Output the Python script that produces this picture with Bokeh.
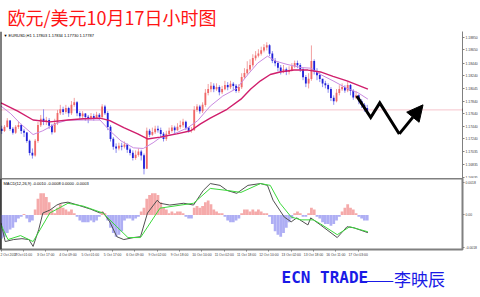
from bokeh.plotting import figure
from bokeh.layouts import column
from bokeh.models import (Range1d, FixedTicker, Label, Span, Arrow, NormalHead,
                          ColumnDataSource, CustomJSTickFormatter, NumeralTickFormatter)
from bokeh.embed import file_html
from bokeh.resources import INLINE

# ---------------- texts ----------------
title_text = "欧元/美元10月17日小时图"
footer_latin = "ECN TRADE"
footer_cjk = "——李映辰"
symbol_text = "▼ EURUSD,H1  1.17803 1.17834 1.17730 1.17787"
macd_text = "MACD(12,26,9) -0.0010 -0.0008 0.0000 -0.0003"
bid_text = "1.17787"

# ---------------- 2-hour candles ----------------
first_open = 1.1740
close = [
    1.1737, 1.1743, 1.1753, 1.1740, 1.1734, 1.1743, 1.1746, 1.1737, 1.1734, 1.1721,
    1.1702, 1.1698, 1.1721, 1.1746, 1.1756, 1.1751, 1.1754, 1.1745, 1.1735, 1.1749,
    1.1765, 1.1771, 1.1767, 1.1773, 1.1765, 1.1778, 1.1782, 1.1765, 1.1760, 1.1764,
    1.1759, 1.1756, 1.1760, 1.1757, 1.1762, 1.1759, 1.1775, 1.1765, 1.1743, 1.1724,
    1.1712, 1.1709, 1.1713, 1.1712, 1.1715, 1.1707, 1.1702, 1.1694, 1.1699, 1.1704,
    1.1698, 1.1677, 1.1737, 1.1731, 1.1735, 1.1740, 1.1738, 1.1732, 1.1724, 1.1732,
    1.1737, 1.1742, 1.1738, 1.1743, 1.1746, 1.1751, 1.1742, 1.1737, 1.1738, 1.1770,
    1.1775, 1.1768, 1.1778, 1.1797, 1.1803, 1.1808, 1.1803, 1.1806, 1.1798, 1.1803,
    1.1809, 1.1806, 1.1811, 1.1808, 1.1800, 1.1806, 1.1822, 1.1828, 1.1834, 1.1841,
    1.1852, 1.1856, 1.1859, 1.1864, 1.1869, 1.1872, 1.1859, 1.1848, 1.1844, 1.1837,
    1.1831, 1.1834, 1.1830, 1.1833, 1.1839, 1.1844, 1.1841, 1.1834, 1.1822, 1.1812,
    1.1819, 1.1847, 1.1831, 1.1825, 1.1819, 1.1812, 1.1809, 1.1803, 1.1789, 1.1784,
    1.1797, 1.1803, 1.1806, 1.1801, 1.1809, 1.1800, 1.1790, 1.1793, 1.1784, 1.1778,
    1.1773, 1.1768]
high = [
    1.1745, 1.1746, 1.1757, 1.1754, 1.1743, 1.1746, 1.1751, 1.1748, 1.1740, 1.1735,
    1.1723, 1.1709, 1.1724, 1.1751, 1.1762, 1.1771, 1.1759, 1.1757, 1.1748, 1.1756,
    1.1770, 1.1778, 1.1775, 1.1778, 1.1775, 1.1784, 1.1789, 1.1784, 1.1768, 1.1768,
    1.1765, 1.1762, 1.1765, 1.1764, 1.1767, 1.1765, 1.1779, 1.1778, 1.1768, 1.1746,
    1.1727, 1.1717, 1.1718, 1.1718, 1.1720, 1.1717, 1.1710, 1.1706, 1.1706, 1.1709,
    1.1707, 1.1701, 1.1742, 1.1740, 1.1742, 1.1745, 1.1745, 1.1742, 1.1735, 1.1737,
    1.1742, 1.1746, 1.1745, 1.1749, 1.1753, 1.1756, 1.1753, 1.1743, 1.1743, 1.1776,
    1.1779, 1.1778, 1.1782, 1.1803, 1.1811, 1.1814, 1.1812, 1.1812, 1.1809, 1.1808,
    1.1816, 1.1814, 1.1816, 1.1814, 1.1811, 1.1811, 1.1828, 1.1836, 1.1847, 1.1850,
    1.1858, 1.1863, 1.1866, 1.1870, 1.1874, 1.1877, 1.1874, 1.1863, 1.1852, 1.1847,
    1.1841, 1.1841, 1.1837, 1.1839, 1.1844, 1.1848, 1.1848, 1.1844, 1.1837, 1.1825,
    1.1828, 1.1872, 1.1850, 1.1836, 1.1828, 1.1819, 1.1816, 1.1812, 1.1806, 1.1793,
    1.1803, 1.1809, 1.1812, 1.1809, 1.1814, 1.1811, 1.1803, 1.1800, 1.1795, 1.1787,
    1.1781, 1.1778]
low = [
    1.1732, 1.1735, 1.1742, 1.1737, 1.1731, 1.1732, 1.1740, 1.1732, 1.1727, 1.1718,
    1.1698, 1.1693, 1.1696, 1.1718, 1.1743, 1.1746, 1.1746, 1.1740, 1.1731, 1.1734,
    1.1746, 1.1762, 1.1762, 1.1764, 1.1759, 1.1762, 1.1775, 1.1760, 1.1756, 1.1757,
    1.1753, 1.1749, 1.1754, 1.1753, 1.1756, 1.1754, 1.1757, 1.1762, 1.1738, 1.1720,
    1.1707, 1.1702, 1.1706, 1.1706, 1.1709, 1.1702, 1.1698, 1.1690, 1.1691, 1.1696,
    1.1690, 1.1668, 1.1677, 1.1727, 1.1729, 1.1732, 1.1734, 1.1727, 1.1720, 1.1721,
    1.1729, 1.1734, 1.1732, 1.1737, 1.1740, 1.1742, 1.1738, 1.1734, 1.1734, 1.1737,
    1.1767, 1.1764, 1.1765, 1.1775, 1.1793, 1.1798, 1.1798, 1.1800, 1.1793, 1.1795,
    1.1801, 1.1801, 1.1803, 1.1801, 1.1797, 1.1797, 1.1803, 1.1819, 1.1825, 1.1831,
    1.1837, 1.1848, 1.1853, 1.1856, 1.1861, 1.1864, 1.1855, 1.1844, 1.1839, 1.1831,
    1.1826, 1.1828, 1.1825, 1.1826, 1.1831, 1.1836, 1.1836, 1.1830, 1.1817, 1.1806,
    1.1804, 1.1816, 1.1826, 1.1817, 1.1814, 1.1806, 1.1804, 1.1797, 1.1784, 1.1778,
    1.1782, 1.1793, 1.1800, 1.1797, 1.1798, 1.1793, 1.1786, 1.1787, 1.1779, 1.1773,
    1.1767, 1.1764]

# ---------------- moving averages (hour index, price) ----------------
ma_slow_h = [0, 12, 23, 35, 48, 59, 71, 78, 88, 98, 105, 114, 126, 136, 143, 150,
             162, 172, 179, 186, 193, 200, 210, 220, 229, 238, 248, 263]
ma_slow_p = [1.1781, 1.1768, 1.1754, 1.1751, 1.1754, 1.1756, 1.1757, 1.1753, 1.1742,
             1.1732, 1.1724, 1.1727, 1.1732, 1.1737, 1.1748, 1.1757, 1.1771, 1.1787,
             1.1803, 1.1816, 1.1826, 1.1830, 1.1833, 1.1833, 1.1830, 1.1823, 1.1816, 1.1803]
ma_fast_h = [0, 7, 14, 23, 30, 40, 48, 59, 71, 78, 86, 95, 102, 109, 114, 124, 134,
             141, 150, 159, 169, 177, 184, 191, 197, 205, 215, 222, 229, 238, 248, 256, 263]
ma_fast_p = [1.1776, 1.1764, 1.1748, 1.1731, 1.1737, 1.1749, 1.1754, 1.1754, 1.1754,
             1.1737, 1.1721, 1.1710, 1.1709, 1.1718, 1.1726, 1.1732, 1.1742, 1.1753,
             1.1776, 1.1792, 1.1804, 1.1826, 1.1844, 1.1855, 1.1847, 1.1842, 1.1837,
             1.1836, 1.1826, 1.1816, 1.1804, 1.1797, 1.1787]
bid_price = 1.1770

# ---------------- MACD panel ----------------
hist = [
    -0.0013, -0.0012, -0.0010, -0.0008, -0.0007, -0.0004, -0.0002, -0.0001, 0.00005, -0.0002,
    -0.0004, -0.0003, 0.0003, 0.0009, 0.0012, 0.0012, 0.0010, 0.0007, 0.0003, 0.0001,
    0.0004, 0.0006, 0.0004, 0.0003, 0.0002, 0.0003, 0.0001, -0.0001, -0.0003, -0.0004,
    -0.0004, -0.0004, -0.0003, -0.0004, -0.0003, -0.0001, 0.0002, 0.0001, -0.0003, -0.0007,
    -0.0010, -0.0012, -0.0011, -0.0009, -0.0003, -0.0002, -0.0002, -0.0003, -0.0002, -0.0001,
    0.0002, 0.0004, 0.0009, 0.0011, 0.0012, 0.0012, 0.0011, 0.0007, 0.0004, 0.0003,
    0.0001, 0.0002, 0.0001, 0.0002, 0.0002, 0.0001, -0.0001, -0.0002, -0.0002, 0.0004,
    0.0005, 0.0004, 0.0005, 0.0007, 0.0008, 0.0006, 0.0003, 0.0002, 0.0001, 0.0001,
    -0.0001, -0.0003, -0.0004, -0.0004, -0.0003, -0.0002, 0.0001, 0.0003, 0.0003, 0.0002,
    0.0003, 0.0002, 0.0003, 0.0002, 0.0001, 0.0001, -0.0001, -0.0005, -0.0009, -0.0011,
    -0.0012, -0.0010, -0.0007, -0.0004, -0.0002, 0.0001, 0.0002, 0.0001, -0.0001, -0.0001,
    0.0001, 0.0004, 0.0003, -0.0001, -0.0002, -0.0004, -0.0005, -0.0005, -0.0006, -0.0005,
    -0.0003, -0.0001, 0.0002, 0.0004, 0.0006, 0.0004, 0.0003, 0.0001, -0.0001, -0.0002,
    -0.0003, -0.0003]
macd_h = [0, 3, 9, 15, 20, 23, 27, 30, 35, 40, 43, 48, 55, 64, 71, 73, 78, 83, 88, 95,
          100, 105, 112, 114, 121, 131, 138, 145, 150, 157, 162, 169, 177, 186, 191, 195,
          203, 208, 212, 220, 222, 229, 241, 248, 253, 263]
macd_v = [-0.00044, -0.00147, -0.00136, -0.00131, -0.00136, -0.00174, -0.00082, 0.00011,
          0.00027, 0.00055, 0.00065, 0.00071, 0.00055, 0.00033, 0.00011, 0.00016, -0.00038,
          -0.0012, -0.00136, -0.00125, -0.0012, 0.00011, 0.00082, 0.00065, 0.00055, 0.00065,
          0.00055, 0.00136, 0.00174, 0.00164, 0.00136, 0.0012, 0.00164, 0.00174, 0.00164,
          0.00082, -0.00011, -0.00038, -0.00016, -0.00055, -0.00016, -0.00055, -0.00125,
          -0.00065, -0.00071, -0.00098]
signal_h = [0, 5, 14, 23, 35, 48, 59, 73, 83, 91, 100, 114, 129, 138, 150, 162, 172, 186,
            193, 200, 208, 215, 224, 229, 241, 250, 263]
signal_v = [-0.00055, -0.00136, -0.00114, -0.00147, 0.00011, 0.00065, 0.00049, 0.00011,
            -0.00065, -0.00125, -0.00125, 0.00038, 0.00055, 0.00065, 0.00147, 0.00136,
            0.00125, 0.00174, 0.00164, 0.00065, -0.00011, -0.00027, -0.00027, -0.00049,
            -0.00109, -0.00065, -0.00093]

# ---------------- hand-drawn forecast arrow (hour index, price) ----------------
arrow_h = [255, 265, 271.5, 285.5, 302.5]
arrow_p = [1.1792, 1.1758, 1.1781, 1.1732, 1.1778]

# ---------------- axes ----------------
price_ticks = [1.16635, 1.16835, 1.17035, 1.17240, 1.17440, 1.17640, 1.17840,
               1.18045, 1.18240, 1.18440, 1.18650, 1.18850]
macd_ticks = [-0.0018, 0.0, 0.0018]
macd_tick_labels = ["-0.0018", "0.00", "0.0018"]
date_ticks = [0, 16, 32, 48, 64, 80, 96, 112, 128, 144, 160, 176, 192, 208, 224, 240, 256]
date_labels = ["2 Oct 2017", "3 Oct 01:00", "3 Oct 17:00", "4 Oct 09:00", "5 Oct 01:00",
               "5 Oct 17:00", "6 Oct 09:00", "9 Oct 02:00", "9 Oct 18:00", "10 Oct 10:00",
               "11 Oct 02:00", "11 Oct 18:00", "12 Oct 10:00", "13 Oct 02:00",
               "13 Oct 18:00", "16 Oct 11:00", "17 Oct 03:00"]

AX = "#808080"
TXT = "#3a3a3a"
SMALL = "3.4px"
x_range = Range1d(-0.36, 330.8)


def style_axis(ax):
    ax.major_label_text_font = "Liberation Sans"
    ax.major_label_text_font_size = SMALL
    ax.major_label_text_color = TXT
    ax.axis_line_color = AX
    ax.major_tick_line_color = AX
    ax.major_tick_out = 2
    ax.major_tick_in = 0
    ax.minor_tick_out = 0
    ax.minor_tick_in = 0
    ax.major_label_standoff = 1


# ================= main price chart =================
p = figure(width=480, height=178, x_range=x_range, y_range=Range1d(1.16615, 1.18940),
           output_backend="svg", toolbar_location=None, min_border_left=0,
           min_border_right=18, min_border_top=30, min_border_bottom=0,
           x_axis_location=None, y_axis_location="right", title=title_text)
p.title.text_font = "Noto Sans CJK SC"
p.title.text_font_size = "18px"
p.title.text_font_style = "normal"
p.title.text_color = "#ff1414"
p.title.align = "left"
p.title.offset = 7
p.title.standoff = 3
p.outline_line_color = None
p.xgrid.visible = False
p.ygrid.visible = False

ya = p.yaxis[0]
ya.ticker = FixedTicker(ticks=price_ticks)
ya.formatter = NumeralTickFormatter(format="0.00000")
style_axis(ya)

p.add_layout(Span(location=bid_price, dimension="width", line_color="#f6c4cc",
                  line_width=1, level="underlay"))
p.add_layout(Span(location=x_range.start, dimension="height", line_color="black",
                  line_width=2))

hours = [2 * i + 0.5 for i in range(len(close))]
opens = [first_open] + close[:-1]
up = [c >= o for o, c in zip(opens, close)]
tops = [max(o, c) + 0.00002 for o, c in zip(opens, close)]
bots = [min(o, c) - 0.00002 for o, c in zip(opens, close)]
src = ColumnDataSource(dict(
    x=hours, high=high, low=low, top=tops, bottom=bots,
    wc=["#f2a0a0" if u else "#8c8cf0" for u in up],
    bc=["#f06868" if u else "#2020d8" for u in up]))
p.segment(x0="x", y0="high", x1="x", y1="low", line_color="wc", line_width=1, source=src)
p.vbar(x="x", width=1.3, top="top", bottom="bottom", fill_color="bc", line_color=None,
       source=src)

p.line(ma_fast_h, ma_fast_p, line_color="#c98ae0", line_width=1)
p.line(ma_slow_h, ma_slow_p, line_color="#d01e6c", line_width=1.4)

p.line(arrow_h[:4], arrow_p[:4], line_color="black", line_width=3, line_join="miter")
p.add_layout(Arrow(end=NormalHead(size=16, fill_color="black", line_color="black"),
                   x_start=arrow_h[3], y_start=arrow_p[3], x_end=arrow_h[4], y_end=arrow_p[4],
                   line_color="black", line_width=3))

p.add_layout(Label(x=3, y=141, x_units="screen", y_units="screen", text=symbol_text,
                   text_font="Liberation Sans", text_font_size="4px", text_color="black"))
p.add_layout(Label(x=462, y=bid_price, x_units="screen", y_units="data", text=bid_text,
                   text_font="Liberation Sans", text_font_size="3.6px", text_color="white",
                   text_baseline="middle", background_fill_color="black"))

# ================= MACD panel =================
m = figure(width=480, height=81, x_range=x_range, y_range=Range1d(-0.00191, 0.00202),
           output_backend="svg", toolbar_location=None, min_border_left=0,
           min_border_right=18, min_border_top=0, min_border_bottom=9,
           y_axis_location="right")
m.outline_line_color = AX
m.outline_line_width = 2
m.xgrid.visible = False
m.ygrid.visible = False

m.vbar(x=hours, width=2.0, top=hist, bottom=0,
       fill_color=["#f5aaaa" if v >= 0 else "#aeaef4" for v in hist], line_color=None)
m.line(macd_h, macd_v, line_color="#505050", line_width=1)
m.line(signal_h, signal_v, line_color="#3cd83c", line_width=1)
m.add_layout(Span(location=x_range.start, dimension="height", line_color="black",
                  line_width=2))

my = m.yaxis[0]
my.ticker = FixedTicker(ticks=macd_ticks)
my.formatter = CustomJSTickFormatter(
    args=dict(tvals=macd_ticks, tlabels=macd_tick_labels),
    code="const i = tvals.findIndex(t => Math.abs(t - tick) < 1e-9); return i >= 0 ? tlabels[i] : '';")
style_axis(my)

mx = m.xaxis[0]
mx.ticker = FixedTicker(ticks=date_ticks)
mx.formatter = CustomJSTickFormatter(
    args=dict(tvals=date_ticks, tlabels=date_labels),
    code="const i = tvals.indexOf(tick); return i >= 0 ? tlabels[i] : '';")
mx.major_label_text_align = "left"
style_axis(mx)

m.add_layout(Label(x=3, y=64, x_units="screen", y_units="screen", text=macd_text,
                   text_font="Liberation Sans", text_font_size="4px", text_color="black"))

# ================= footer signature =================
f = figure(width=480, height=38, output_backend="svg", toolbar_location=None,
           min_border=0, x_axis_location=None, y_axis_location=None,
           x_range=Range1d(0, 480), y_range=Range1d(0, 38))
f.outline_line_color = None
f.xgrid.visible = False
f.ygrid.visible = False
f.add_layout(Label(x=281, y=20, x_units="screen", y_units="screen", text=footer_latin,
                   text_font="DejaVu Sans Mono", text_font_size="16px",
                   text_font_style="bold", text_color="#1a1ae6", text_baseline="alphabetic"))
f.add_layout(Label(x=365, y=19, x_units="screen", y_units="screen", text=footer_cjk,
                   text_font="Noto Sans CJK SC", text_font_size="17px",
                   text_color="#1a1ae6", text_baseline="alphabetic"))

layout = column(p, m, f, spacing=0)
open("out.html", "w").write(file_html(layout, INLINE))
